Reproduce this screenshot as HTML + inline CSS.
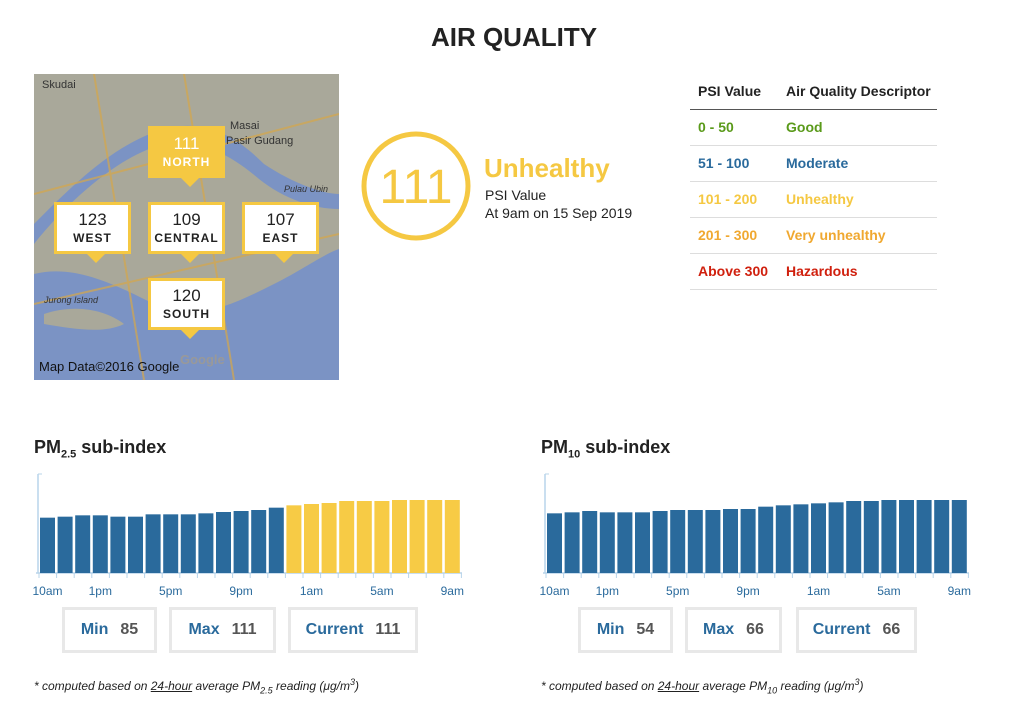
<!DOCTYPE html>
<html><head><meta charset="utf-8"><style>
body{margin:0;width:1024px;height:718px;background:#fff;font-family:"Liberation Sans",sans-serif;position:relative;overflow:hidden;color:#222}
.a{position:absolute;white-space:nowrap}
.box{position:absolute;border:3px solid #e8e8e8;height:40px;line-height:40px;text-align:center;font-size:16px;font-weight:bold;box-sizing:border-box;height:46px}
.box b{color:#2a6a9c}.box span{color:#555;margin-left:12px}
.mk{position:absolute;background:#fff;border:3px solid #f5c842;box-sizing:border-box;text-align:center;width:77px;height:52px}
.mk .n{font-size:17px;margin-top:5px;line-height:20px}.mk .l{font-size:12px;font-weight:bold;letter-spacing:1px;line-height:16px}
.mk:after{content:"";position:absolute;left:30px;bottom:-12px;border:9px solid transparent;border-top:9px solid #f5c842;border-bottom:0}
.row{position:absolute;left:690px;width:247px;height:35px;border-bottom:1px solid #ddd;font-size:14px;font-weight:bold;line-height:35px}
.row span{position:absolute;left:8px}.row i{position:absolute;left:96px;font-style:normal}
.h2{font-size:18px;font-weight:bold}
.note{font-size:12px;font-style:italic}
</style></head><body>
<div class="a" style="left:0;width:1028px;text-align:center;top:22px;font-size:26px;font-weight:bold">AIR QUALITY</div>

<svg class="a" style="left:34px;top:74px" width="305" height="306">
<rect width="305" height="306" fill="#a9a89a"/>
<path d="M0 200 C40 190 80 210 120 230 C160 250 200 230 240 210 C270 195 290 180 305 175 L305 306 L0 306Z" fill="#7b93c4"/>
<path d="M0 150 C40 110 80 70 130 55 C170 45 200 60 230 90 C260 110 290 120 305 120 L305 135 C280 135 250 125 225 105 C190 75 160 65 130 70 C90 80 40 120 0 170Z" fill="#7b93c4"/>
<path d="M10 240 C40 230 70 235 90 250 C70 260 40 255 10 250Z" fill="#a9a89a"/>
<path d="M0 120 L305 40 M60 0 L110 306 M0 230 L305 160 M150 0 L200 306" stroke="#d6a64a" stroke-width="2" fill="none" opacity=".7"/>
<text x="8" y="14" font-size="11" fill="#333">Skudai</text>
<text x="196" y="55" font-size="11" fill="#333">Masai</text>
<text x="192" y="70" font-size="11" fill="#333">Pasir Gudang</text>
<text x="250" y="118" font-size="9" fill="#333" font-style="italic">Pulau Ubin</text>
<text x="10" y="229" font-size="9" fill="#333" font-style="italic">Jurong Island</text>
<text x="146" y="290" font-size="13" fill="#999" font-weight="bold">Google</text>
<text x="5" y="297" font-size="13" fill="#111">Map Data©2016 Google</text>
</svg>
<div class="mk" style="left:148px;top:126px;background:#f5c842;color:#fff"><div class="n">111</div><div class="l">NORTH</div></div>
<div class="mk" style="left:54px;top:202px"><div class="n">123</div><div class="l">WEST</div></div>
<div class="mk" style="left:148px;top:202px"><div class="n">109</div><div class="l">CENTRAL</div></div>
<div class="mk" style="left:242px;top:202px"><div class="n">107</div><div class="l">EAST</div></div>
<div class="mk" style="left:148px;top:278px"><div class="n">120</div><div class="l">SOUTH</div></div>

<svg class="a" style="left:360px;top:130px" width="112" height="112"><circle cx="56" cy="56" r="52" fill="none" stroke="#f5c842" stroke-width="5"/><text x="56" y="73" text-anchor="middle" font-size="48" fill="#f5c842" font-family="Liberation Sans">111</text></svg>
<div class="a" style="left:484px;top:153px;font-size:26px;font-weight:bold;color:#f5c842">Unhealthy</div>
<div class="a" style="left:485px;top:187px;font-size:14px">PSI Value</div>
<div class="a" style="left:485px;top:205px;font-size:14px">At 9am on 15 Sep 2019</div>

<div class="row" style="top:74px;border-bottom:1px solid #555;color:#222"><span>PSI Value</span><i>Air Quality Descriptor</i></div>
<div class="row" style="top:110px;color:#5a9a1a"><span>0 - 50</span><i>Good</i></div>
<div class="row" style="top:146px;color:#2a6a9c"><span>51 - 100</span><i>Moderate</i></div>
<div class="row" style="top:182px;color:#f5c842"><span>101 - 200</span><i>Unhealthy</i></div>
<div class="row" style="top:218px;color:#f0a830"><span>201 - 300</span><i>Very unhealthy</i></div>
<div class="row" style="top:254px;color:#d0200e"><span>Above 300</span><i>Hazardous</i></div>

<div class="a h2" style="left:34px;top:437px">PM<sub style="font-size:11px">2.5</sub> sub-index</div>
<div class="a h2" style="left:541px;top:437px">PM<sub style="font-size:11px">10</sub> sub-index</div>
<svg id="c1" class="a" style="left:30px;top:470px" width="450" height="132"></svg>
<svg id="c2" class="a" style="left:537px;top:470px" width="450" height="132"></svg>

<div class="box" style="left:62px;top:607px;width:95px"><b>Min</b><span>85</span></div>
<div class="box" style="left:169px;top:607px;width:107px"><b>Max</b><span>111</span></div>
<div class="box" style="left:288px;top:607px;width:130px"><b>Current</b><span>111</span></div>
<div class="box" style="left:578px;top:607px;width:95px"><b>Min</b><span>54</span></div>
<div class="box" style="left:685px;top:607px;width:97px"><b>Max</b><span>66</span></div>
<div class="box" style="left:796px;top:607px;width:121px"><b>Current</b><span>66</span></div>

<div class="a note" style="left:34px;top:677px">* computed based on <u>24-hour</u> average PM<sub style="font-size:9px">2.5</sub> reading (μg/m<sup style="font-size:9px">3</sup>)</div>
<div class="a note" style="left:541px;top:677px">* computed based on <u>24-hour</u> average PM<sub style="font-size:9px">10</sub> reading (μg/m<sup style="font-size:9px">3</sup>)</div>

<script>
function draw(id,tops,yel,x0){
 var s='',base=103,p=17.6;
 s+='<line x1="'+(x0-2)+'" y1="4" x2="'+(x0-2)+'" y2="'+base+'" stroke="#b8d4ea" stroke-width="1.5"/>';
 s+='<line x1="'+(x0-2)+'" y1="4" x2="'+(x0+2)+'" y2="4" stroke="#b8d4ea"/>';
 s+='<line x1="'+(x0-4)+'" y1="'+base+'" x2="'+(x0+422)+'" y2="'+base+'" stroke="#b8d4ea" stroke-width="1.5"/>';
 for(var i=0;i<24;i++){var x=x0+i*p,t=tops[i]/3;
  s+='<rect x="'+x+'" y="'+t+'" width="15" height="'+(base-t)+'" fill="'+(i>=yel?'#f7cb45':'#2a6a9c')+'"/>';}
 for(var i=0;i<=24;i++){var x=x0-1+i*p;s+='<line x1="'+x+'" y1="'+base+'" x2="'+x+'" y2="'+(base+5)+'" stroke="#b8d4ea"/>';}
 var L=[[0,'10am'],[3,'1pm'],[7,'5pm'],[11,'9pm'],[15,'1am'],[19,'5am'],[23,'9am']];
 L.forEach(function(l){s+='<text x="'+(x0+l[0]*p+7.5)+'" y="125" text-anchor="middle" font-size="12" fill="#2a6a9c" font-family="Liberation Sans">'+l[1]+'</text>';});
 document.getElementById(id).innerHTML=s;}
draw('c1',[143,140,136,136,140,140,133,133,133,130,126,123,120,113,106,102,99,93,93,93,90,90,90,90],14,10);
draw('c2',[130,127,123,127,127,127,123,120,120,120,117,117,110,106,103,100,97,93,93,90,90,90,90,90],99,10);
</script>
</body></html>
